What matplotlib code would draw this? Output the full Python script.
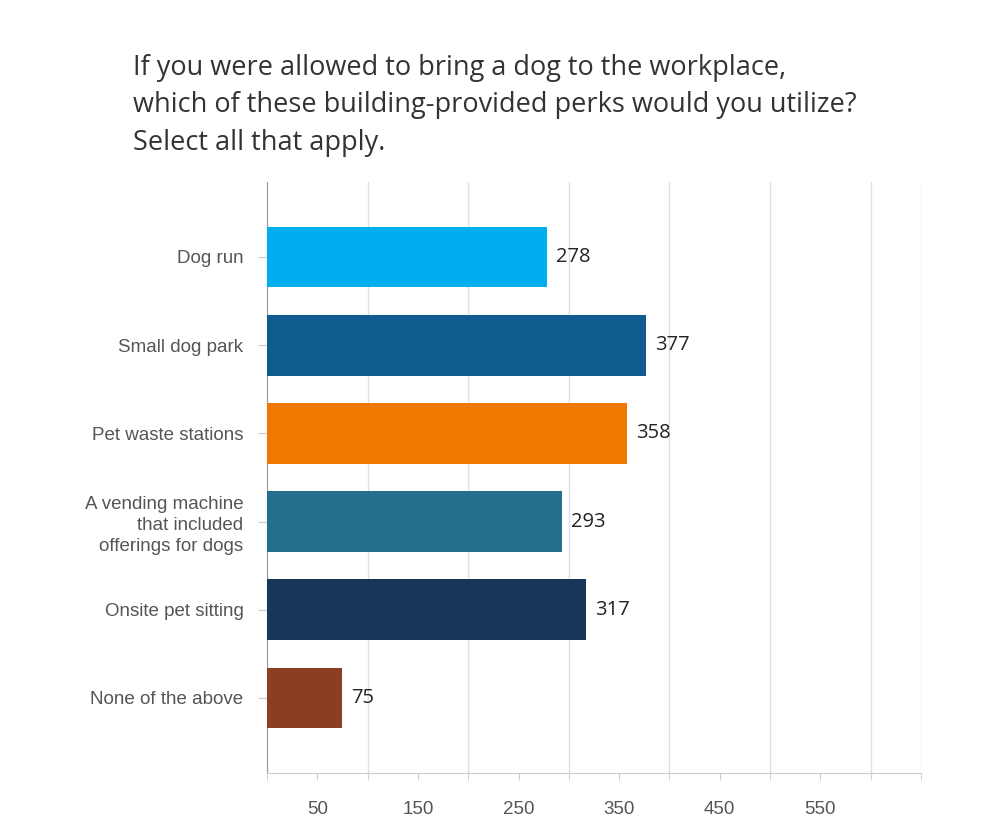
import numpy as np
import matplotlib.pyplot as plt

categories = [
    "Dog run",
    "Small dog park",
    "Pet waste stations",
    "A vending machine\nthat included\nofferings for dogs",
    "Onsite pet sitting",
    "None of the above",
]
counts = [278, 377, 358, 293, 317, 75]
bar_colors = ["#00AEEF", "#0F5A8E", "#F07800", "#246E8E", "#16375A", "#8B3E24"]
tick_values = [50, 150, 250, 350, 450, 550]
title = ("If you were allowed to bring a dog to the workplace,\n"
         "which of these building-provided perks would you utilize?\n"
         "Select all that apply.")

fig = plt.figure(figsize=(10.02, 8.26), dpi=100)
ax = fig.add_axes([0.2665, 0.0642, 0.6527, 0.7155])

y = np.arange(len(categories))
ax.barh(y, counts, height=0.69, color=bar_colors, zorder=3)
for yi, v in zip(y, counts):
    ax.text(v + 9, yi, str(v), va="center", ha="left", fontsize=14.5,
            family="Open Sans", color="#222222", zorder=4)

ax.set_xlim(0, 650)
ax.set_ylim(len(categories) - 0.15, -0.85)
ax.set_yticks(y)
ax.set_yticklabels(categories, family="Liberation Sans", fontsize=13.5,
                   color="#555555", linespacing=1.3)
ax.set_xticks(np.arange(0, 651, 50), minor=True)
ax.set_xticks(tick_values)
ax.set_xticklabels([str(t) for t in tick_values], family="Liberation Sans",
                   fontsize=13.5, color="#555555")
ax.grid(axis="x", which="minor", color="#e0e0e0", linewidth=1, zorder=0)
ax.tick_params(axis="x", which="both", length=5, color="#cccccc", pad=15)
ax.tick_params(axis="y", length=6.5, color="#cccccc", pad=10.5)

for s in ["top", "right"]:
    ax.spines[s].set_visible(False)
ax.spines["left"].set_color("#999999")
ax.spines["bottom"].set_color("#cccccc")

fig.text(0.1327, 0.935, title, ha="left", va="top", family="Open Sans",
         fontsize=19.5, color="#333333", linespacing=1.45)

fig.savefig("out.png", dpi=100)
